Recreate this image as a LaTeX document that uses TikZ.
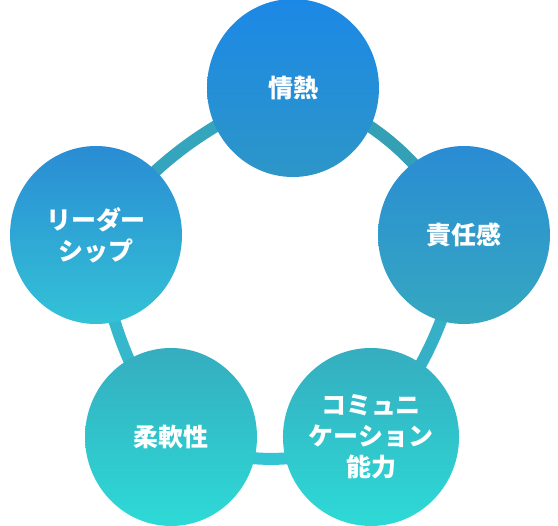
\documentclass[tikz,border=0pt]{standalone}
\usepackage{fontspec}
\newfontfamily\jpfont{Noto Sans CJK JP}
\usetikzlibrary{shapes.geometric,backgrounds}
\definecolor{blobblue1}{RGB}{28,136,230}
\definecolor{blobblue2}{RGB}{45,150,200}
\definecolor{blobmid1}{RGB}{42,140,212}
\definecolor{blobmid2}{RGB}{53,168,192}
\definecolor{blobmid3}{RGB}{51,194,214}
\definecolor{blobteal1}{RGB}{53,173,192}
\definecolor{blobteal2}{RGB}{45,218,214}
\definecolor{ringA}{RGB}{52,160,182}
\definecolor{ringB}{RGB}{53,176,198}
\definecolor{ringC}{RGB}{51,198,210}
\definecolor{ringD}{RGB}{54,184,204}
\definecolor{ringE}{RGB}{53,165,189}
\tikzset{
    % round skill blob with white label
    blob/.style={
        ellipse, minimum width=172pt, minimum height=178pt, inner sep=0pt,
        align=center, text=white,
        font=\jpfont\bfseries\fontsize{25}{31}\selectfont
    },
    % the thick ring joining the blobs
    ring/.style={line width=12pt},
}
\begin{document}
\begin{tikzpicture}[x=1pt,y=-1pt]
  \useasboundingbox (0,0) rectangle (558,526);

  % --- the five blobs ---
  \node[blob,top color=blobblue1,bottom color=blobblue2] (jonetsu) at (293,88) {情熱};
  \node[blob,top color=blobmid1,bottom color=blobmid2] (sekinin) at (464,235) {責任感};
  \node[blob,top color=blobteal1,bottom color=blobteal2] (komyu) at (371,437) {コミュニ\\ケーション\\能力};
  \node[blob,top color=blobteal1,bottom color=blobteal2] (junan) at (171,437) {柔軟性};
  \node[blob,top color=blobmid1,bottom color=blobmid3] (leader) at (96,235) {リーダー\\シップ};

  % --- ring behind the blobs ---
  \begin{scope}[on background layer]
    \foreach \a/\b/\bnd/\col in {jonetsu/sekinin/20/ringA, sekinin/komyu/14/ringB,
        komyu/junan/22/ringC, junan/leader/12/ringD, leader/jonetsu/14/ringE}
      \draw[ring,draw=\col] (\a.center) to[bend left=\bnd] (\b.center);
  \end{scope}
\end{tikzpicture}
\end{document}
